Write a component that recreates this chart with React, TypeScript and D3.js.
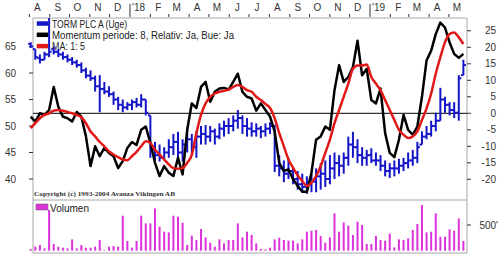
import React from "react";
import * as d3 from "d3";

// ---- data (weekly) ----
const firstWeek = new Date(2017, 7, 3);
const priceHigh = [65.8,64.5,63.5,64,70.5,65,64.5,64,63.5,63,62.5,62,61,60.5,59.5,59.6,58.3,57.5,56.5,55.5,55,54.5,55,55.3,56,55,52,47,46.5,46,47.5,48.5,48.9,47.5,49.6,48.5,49,50,50.2,50,49.5,50.5,51,51.5,52,53,52,51.5,50.7,50.5,50,50.5,50.7,50.2,44.5,43.5,44,42,41.5,41,40.5,41,42,43,43.5,44.5,45,44.5,45,48,48.9,47.5,46,45.5,45.8,45,44.5,43.5,43,43.5,43.8,44,45,45.5,47,49,50,51,52.5,57.2,55.5,54.5,54.5,59.6,62.5];
const priceLow = [64.7,62.5,61.8,62.5,63,63.5,63,62.5,62,61.5,61,60,59,58.5,56.5,52.6,56,55.5,54,53,52.6,53,53,53.5,53.5,52,44,43.5,43.3,43.5,44,44.5,44,43.3,45,44.5,44,46.5,46.5,47,46.5,47.5,48,48.5,49,49.5,48.5,48,48,48,47.7,48,48.5,41.3,40.5,39.4,40,39,38,37.5,37.2,37.5,37.5,38,38.5,39,40,40.5,41,42.5,44,43,42.5,42.5,43,42.5,41.5,40.5,40.2,40.5,41,41.5,42,42.5,43,46.5,47.5,48,49,51,52.5,52,51.5,51,59.6];
const priceOpen = [65.5,64.5,62.8,62.5,63.5,64.5,64,63.5,63,62.5,62,61.5,60.5,59.5,59,57.5,57,56.5,56,55,54,53.5,54,54.5,54,55,52,45.5,44.5,44,45,46,47,45,46.5,47.5,46,48,48.5,48,49,48,49.5,50,50,51,51.5,50,49.5,49,49.5,49,49.5,50,42.5,42,41,41.5,40,39,38.5,39,39.5,40.5,41,40,42,43,42.5,44,46.5,46,44.5,44,44.5,43.5,43.5,42.5,41.5,42,42,42.5,43,43.5,44,46.5,48,48.5,50,51,55,54,53,52.5,59.6];
const priceClose = [65,63,62.5,63.5,64,64,63.5,63,62.5,62,61.5,60.5,59.5,59,57.5,57,56.5,56,55,54,53.5,54,54.5,54,55,52.5,45.5,44.5,44,45,46,47,45,46.5,47.5,46,48,48.5,48,49,48,49.5,50,50,51,51.5,50,49.5,49,49.5,49,49.5,50,42.5,42,41,41.5,40,39,38.5,39,39.5,40.5,41,40,42,43,42.5,44,46.5,46,44.5,44,44.5,43.5,43.5,42.5,41.5,42,42,42.5,43,43.5,44,46,48,48.5,50,51,55,54,53,52.5,59,61.5];
const momentum = [-1,-2.5,0,-0.5,1,8,2,-1,-1.5,-2.5,0.4,-1,-7,-16,-10,-13,-10.5,-12,-13,-16.6,-14.5,-10.5,-8.7,-9.6,-5,-4,-9,-15,-19,-16,-18,-19,-13.5,-18.5,-5,3,1.6,8,9.5,3.5,6.5,7.5,7.7,7.2,9.5,12,6.5,5,4.5,0.8,3,1,-1,-5.5,-15,-17.5,-17,-20,-22,-23.8,-23.8,-18,-8,-7,-4,-5,7,14.6,9.5,11,14,22,11.5,13.5,4,3,7.5,-6,-12,-13.3,-8,-0.5,-5,-6.5,-4,5,16,19,24,27.5,26,21.5,18,16.8,18];
const momentumMA = [-4.5,-3,-1.5,-0.5,0,0.8,1,0.8,0.4,0,-0.5,-1.2,-3,-5.5,-7,-8.7,-10,-11.5,-12.5,-13.3,-14,-14.2,-13,-11.7,-10,-8.5,-9,-11,-12.5,-14,-15.5,-16.6,-16.8,-16.6,-15,-12.6,-6,-0.5,3,5,6,6.5,6.8,7.2,8,8.6,8,7,6.5,5,4,2.8,1.6,-1.5,-6,-10,-14,-16.5,-18.8,-20.5,-22,-21,-19,-16,-12,-8,-3,1,5,9,13.5,14.5,14.5,14.8,11,9,7,4,1,-2,-5,-6.5,-7.5,-7,-5.5,-2,1.5,6,12,17,21.5,24,24.5,23,21];
const volume = [33,78,111,45,792,130,78,58,45,220,45,111,58,58,78,208,14,78,91,78,681,189,58,189,681,531,531,823,467,370,356,681,662,545,111,292,208,422,259,156,78,220,142,208,208,531,259,370,306,142,33,25,58,220,253,208,195,195,142,220,370,389,403,286,156,259,726,370,551,487,306,564,500,130,130,286,208,195,331,64,220,208,239,403,520,889,356,370,726,272,272,415,389,629,189];
const priceTicks = [40, 45, 50, 55, 60, 65];
const momentumTicks = [-20, -15, -10, -5, 0, 5, 10, 15, 20, 25];
const volumeTicks = [500];
const monthLetters = ["J", "F", "M", "A", "M", "J", "J", "A", "S", "O", "N", "D"];
const legendLabels = ["TORM PLC A (Uge)", "Momentum periode: 8, Relativ: Ja, Bue: Ja", "MA: 1: 5"];
const volumeLabel = "Volumen";
const copyright = "Copyright (c) 1993-2004 Avanza Vikingen AB";

const dates = priceClose.map((_, i) => d3.timeDay.offset(firstWeek, 7 * i));

const L = 33, R = 467, T = 18, MID = 200, B = 253;
const x = d3.scaleTime().domain([new Date(2017, 7, 6, 12), new Date(2019, 4, 28, 12)]).range([L, R]);
const yP = d3.scaleLinear().domain([40, 65]).range([179, 46.5]);
const yM = d3.scaleLinear().domain([-20, 25]).range([179.3, 30.8]);
const yV = d3.scaleLinear().domain([0, 500]).range([250.7, 225]);

const BLUE = "#1414c8";
const RED = "#e01818";
const MAG = "#dd33dd";
const GRID = "#a8a8a8";
const FONT = "'Liberation Sans', Arial, sans-serif";

export default function App() {
  const months = d3.timeMonth.range(new Date(2017, 7, 1), new Date(2019, 5, 1));
  const momLine = d3.line<number>().x((_, i) => x(dates[i])).y((d) => yM(d))(momentum) || "";
  const maLine = d3.line<number>().x((_, i) => x(dates[i])).y((d) => yM(d)).curve(d3.curveMonotoneX)(momentumMA) || "";
  return (
    <div style={{ position: "fixed", left: 0, top: 0 }}>
      <svg width={500} height={256} style={{ display: "block", background: "#fff" }} fontFamily={FONT}>
        <defs>
          <clipPath id="mainClip"><rect x={20} y={T} width={R - 20} height={MID - T} /></clipPath>
        </defs>
        {/* frames */}
        <line x1={L} x2={R} y1={T} y2={T} stroke={GRID} />
        <line x1={L} x2={R} y1={MID} y2={MID} stroke={GRID} />
        <line x1={L} x2={R} y1={B} y2={B} stroke={GRID} />
        <line x1={L} x2={L} y1={T} y2={B} stroke={GRID} />
        <line x1={R} x2={R} y1={T} y2={B} stroke={GRID} />
        {/* month axis */}
        {months.map((m, k) => {
          const mx = x(m);
          const isYear = m.getMonth() === 0;
          const label = isYear ? "'" + String(m.getFullYear()).slice(2) : monthLetters[m.getMonth()];
          return (
            <g key={k}>
              <line x1={mx} x2={mx} y1={isYear ? 4 : 14} y2={17} stroke="#333" strokeWidth={1} />
              <text x={isYear ? mx + 2 : mx + 8} y={11} fontSize={10} fill="#333" textAnchor={isYear ? "start" : "middle"}>{label}</text>
            </g>
          );
        })}
        {/* left axis */}
        {priceTicks.map((t) => (
          <g key={"p" + t}>
            <line x1={29} x2={L} y1={yP(t)} y2={yP(t)} stroke="#333" />
            <text x={16} y={yP(t) + 3.5} fontSize={10} fill="#333" textAnchor="end">{t}</text>
          </g>
        ))}
        {/* right axis */}
        {momentumTicks.map((t) => (
          <g key={"m" + t}>
            <line x1={R} x2={R + 4} y1={yM(t)} y2={yM(t)} stroke="#333" />
            <text x={496} y={yM(t) + 3.5} fontSize={10} fill="#333" textAnchor="end">{t}</text>
          </g>
        ))}
        {volumeTicks.map((t) => (
          <g key={"v" + t}>
            <line x1={R} x2={R + 4} y1={yV(t)} y2={yV(t)} stroke="#333" />
            <text x={498} y={yV(t) + 3.5} fontSize={10} fill="#333" textAnchor="end">{t + "'"}</text>
          </g>
        ))}
        {/* legend */}
        {[BLUE, "#000", RED].map((c, i) => (
          <rect key={"lg" + i} x={36} y={20.5 + i * 11.3} width={13} height={6} fill={c} stroke="#fff" strokeWidth={1.5} />
        ))}
        {legendLabels.map((s, i) => (
          <text key={"lt" + i} x={52} y={27.5 + i * 11.3} fontSize={10} fill="#222"
            textLength={i === 0 ? 75 : i === 1 ? 182 : 33} lengthAdjust="spacingAndGlyphs">{s}</text>
        ))}
        <text x={34} y={196} fontSize={6.5} fontFamily="'Liberation Serif', serif" fontWeight="bold" fill="#333" textLength={141} lengthAdjust="spacingAndGlyphs">{copyright}</text>
        {/* zero line */}
        <line x1={L} x2={R} y1={yM(0)} y2={yM(0)} stroke="#000" strokeWidth={1} />
        {/* price OHLC bars */}
        <g clipPath="url(#mainClip)" stroke={BLUE} strokeWidth={2}>
          {dates.map((d, i) => {
            const cx = x(d);
            return (
              <g key={"b" + i}>
                <line x1={cx} x2={cx} y1={yP(priceHigh[i])} y2={yP(priceLow[i])} />
                <line x1={cx - 2.5} x2={cx} y1={yP(priceOpen[i])} y2={yP(priceOpen[i])} />
                <line x1={cx} x2={cx + 2.5} y1={yP(priceClose[i])} y2={yP(priceClose[i])} />
              </g>
            );
          })}
        </g>
        {/* momentum lines */}
        <g clipPath="url(#mainClip)">
          <path d={momLine} fill="none" stroke="#000" strokeWidth={2.5} strokeLinejoin="round" />
          <path d={maLine} fill="none" stroke={RED} strokeWidth={2.5} strokeLinejoin="round" />
        </g>
        {/* volume */}
        <rect x={36} y={204} width={12} height={6} fill={MAG} stroke="#555" strokeWidth={0.5} />
        <text x={50} y={212} fontSize={10} fill="#222" textLength={39} lengthAdjust="spacingAndGlyphs">{volumeLabel}</text>
        {dates.map((d, i) => (
          <rect key={"v" + i} x={x(d) - 1} y={yV(volume[i])} width={2} height={yV(0) - yV(volume[i])} fill={MAG} />
        ))}
      </svg>
    </div>
  );
}
